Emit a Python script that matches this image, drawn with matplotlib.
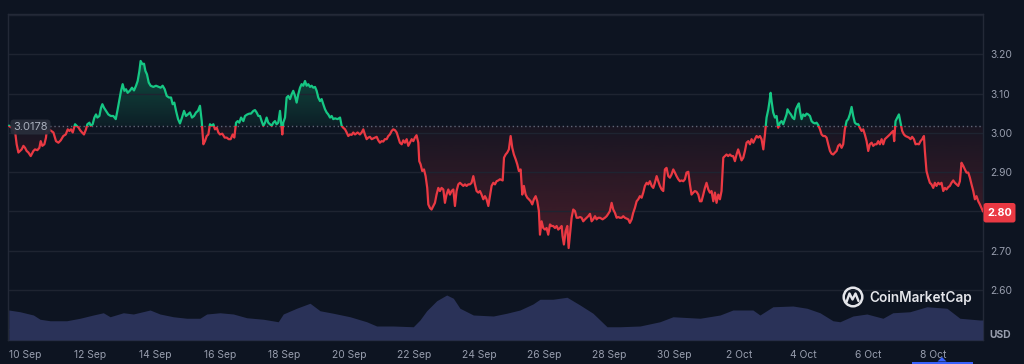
import numpy as np
import matplotlib
matplotlib.use('Agg')
import matplotlib.pyplot as plt
from matplotlib.patches import Rectangle, FancyBboxPatch, PathPatch, Circle, Polygon
from matplotlib.path import Path
from matplotlib.colors import to_rgb

plt.rcParams['font.family'] = ['Inter', 'DejaVu Sans']

# ---------------- data (hours since 10 Sep 00:00, price in USD) ----------------
hours_a = [-11.8,-9.9,-7.4,-6.2,-4.9,-3.7,-2.5,-1.2,0.0,1.2,
           2.5,4.2,6.2,7.4,9.1,10.6,11.6,12.8,14.3,15.5,
           16.0,18.5,21.0,22.9,24.7,26.4,28.3,30.1,31.6,32.8,
           34.0,35.3,37.0,38.2,39.7,40.7,42.2,43.6,45.1,46.1,
           47.6,48.6,50.0,51.3,52.5,53.5,55.0,56.2,57.2,58.4,
           59.9,61.6,63.4,65.3,67.1,68.3,69.8,71.0,72.2,73.5,
           74.7,75.9,77.7,79.1,80.6,82.1,83.3,84.6,85.5,86.8,
           88.0,89.0,90.2,91.5,92.9,94.9,96.9,98.9,100.3,101.8,
           103.3,104.8,106.5,108.0,109.2,110.4,111.7,113.2,114.6,116.1,
           117.6,119.1,120.5,122.0,123.5,125.0,126.5,127.9,129.4,130.7,
           131.9,133.1,134.4,135.6,136.8,138.1,139.3,140.5,141.8,143.0,
           144.2,145.9,147.7,149.2,150.6,152.1,153.6,154.8,156.1,157.3,
           158.5,159.8,161.5,162.7,164.4,165.9]
price_a = [3.018,3.013,3.005,2.971,2.950,2.954,2.958,2.967,2.962,2.954,
           2.950,2.941,2.954,2.958,2.956,2.962,2.979,2.967,2.971,2.988,
           3.005,3.007,3.001,2.979,2.975,2.981,2.992,2.996,3.009,3.005,
           3.009,3.001,3.022,3.018,3.013,3.007,3.001,2.996,3.009,3.022,
           3.026,3.018,3.022,3.039,3.047,3.039,3.043,3.064,3.073,3.064,
           3.056,3.047,3.043,3.043,3.035,3.056,3.085,3.107,3.124,3.107,
           3.111,3.102,3.108,3.115,3.108,3.120,3.132,3.158,3.183,3.175,
           3.176,3.158,3.149,3.128,3.120,3.117,3.120,3.117,3.115,3.120,
           3.111,3.094,3.090,3.090,3.073,3.077,3.056,3.035,3.024,3.039,
           3.056,3.043,3.047,3.052,3.039,3.043,3.052,3.056,3.069,3.030,
           2.971,2.979,2.992,2.996,3.022,3.018,3.022,3.009,3.013,3.001,
           2.996,2.998,2.988,2.988,2.984,2.984,2.996,2.988,3.026,3.030,
           3.026,3.039,3.030,3.043,3.047,3.049]

hours_b = [167.1,168.9,170.1,171.3,172.6,173.8,175.0,176.3,177.5,178.7,
           179.9,181.2,182.4,183.7,184.9,186.1,187.3,188.6,189.3,190.3,
           191.0,192.3,193.5,194.7,196.0,197.2,198.4,199.7,200.9,202.1,
           203.4,204.6,205.8,207.1,208.3,209.5,210.8,212.0,213.2,214.5,
           215.7,216.9,218.2,219.4,220.6,221.9,223.1,224.3,225.6,226.8,
           228.0,229.3,231.2,233.0,234.2,235.4,236.7,237.9,239.1,240.3,
           241.6,242.8,244.1,246.0,247.7,249.0,250.2,251.4,252.7,253.9,
           255.1,256.4,257.6,258.8,260.1,261.3,262.5,263.8,265.0,266.2,
           267.5,268.7,269.9,271.2,272.4,273.6,274.9,276.1,277.3,278.6,
           279.8,281.0,282.3,283.5,284.7,286.0,287.2,288.4,289.6,290.9,
           291.6,292.6,293.8,295.1,296.3,297.5,298.3,299.5,300.7,302.0,
           303.2,304.4,305.7,306.9,308.1,309.4,310.6,311.8,313.1,314.3,
           315.5,316.8,318.0,319.2,320.5,321.7,322.9,324.2,325.4,326.6,
           327.9,329.1,330.3,331.6,332.8,334.0,335.3,336.5,337.7,339.0,
           340.2,341.4,342.7,343.9,345.1,346.4,347.6]
price_b = [3.049,3.056,3.058,3.052,3.043,3.043,3.030,3.018,3.026,3.039,
           3.026,3.022,3.018,3.026,3.030,3.022,3.026,3.056,3.030,2.996,
           3.026,3.039,3.090,3.094,3.086,3.098,3.107,3.094,3.077,3.098,
           3.115,3.124,3.120,3.132,3.120,3.124,3.117,3.120,3.115,3.117,
           3.107,3.090,3.081,3.086,3.073,3.060,3.052,3.047,3.039,3.043,
           3.035,3.037,3.035,3.039,3.018,3.013,3.009,3.001,2.992,2.996,
           2.995,3.001,2.996,3.001,2.996,3.001,3.009,2.996,2.984,2.988,
           2.990,2.984,2.986,2.988,2.990,2.981,2.975,2.979,2.978,2.984,
           2.984,2.992,2.996,3.005,3.009,3.007,3.001,2.988,2.975,2.971,
           2.981,2.975,2.984,2.967,2.975,2.984,2.979,2.988,2.994,2.975,
           2.928,2.920,2.903,2.907,2.890,2.860,2.818,2.809,2.805,2.814,
           2.822,2.843,2.860,2.852,2.860,2.856,2.822,2.843,2.856,2.843,
           2.852,2.856,2.814,2.852,2.869,2.873,2.869,2.865,2.869,2.865,
           2.869,2.869,2.873,2.890,2.869,2.852,2.848,2.852,2.843,2.831,
           2.839,2.831,2.814,2.839,2.865,2.873,2.869]

hours_c = [348.8,350.1,351.3,353.3,354.3,355.5,356.7,357.9,359.2,360.4,
           361.6,362.9,364.1,365.3,366.6,367.8,369.0,370.3,371.5,372.7,
           374.0,375.2,376.4,377.7,378.9,380.1,380.9,382.1,383.3,384.6,
           385.8,387.0,388.3,389.5,390.7,392.0,393.2,394.4,395.7,396.9,
           397.6,398.6,399.9,401.1,402.1,403.1,404.3,405.5,406.8,408.0,
           409.2,410.5,411.7,412.9,414.2,415.4,416.6,417.9,419.1,420.3,
           421.6,422.8,424.0,425.3,427.2,428.9,430.2,431.4,432.6,433.9,
           435.1,436.3,437.6,438.8,440.0,441.3,442.5,443.7,445.0,446.2,
           447.4,448.7,449.9,451.1,452.4,453.6,454.8,456.1,457.3,458.5,
           459.8,461.0,462.2,463.5,464.7,465.9,467.2,468.4,469.6,470.9,
           472.1,473.3,474.5,475.8,477.0,478.2,479.5,480.7,481.9,483.2,
           484.4,485.6,486.9,488.1,489.3,490.6,491.8,493.0,494.3,495.5,
           496.7,498.0,499.2,500.4,501.7,502.9,504.1,505.4,506.6,507.8,
           509.1,510.3,511.5,512.8,514.0,515.2,516.5,517.7,518.9,520.1,
           521.4,522.6,523.8,525.1,526.3,527.5]
price_c = [2.877,2.879,2.882,2.879,2.937,2.945,2.950,2.958,2.992,2.962,
           2.945,2.933,2.920,2.903,2.907,2.843,2.865,2.843,2.835,2.831,
           2.826,2.818,2.831,2.839,2.826,2.801,2.741,2.775,2.758,2.754,
           2.758,2.741,2.767,2.763,2.763,2.758,2.763,2.754,2.758,2.763,
           2.737,2.716,2.750,2.763,2.707,2.741,2.784,2.805,2.801,2.784,
           2.784,2.786,2.784,2.775,2.780,2.784,2.788,2.794,2.775,2.780,
           2.788,2.780,2.784,2.784,2.780,2.784,2.788,2.794,2.801,2.822,
           2.805,2.797,2.784,2.786,2.784,2.784,2.788,2.784,2.782,2.780,
           2.771,2.780,2.797,2.809,2.826,2.831,2.839,2.835,2.848,2.865,
           2.873,2.869,2.877,2.865,2.860,2.873,2.890,2.877,2.865,2.856,
           2.852,2.907,2.911,2.890,2.886,2.894,2.907,2.899,2.890,2.882,
           2.877,2.879,2.877,2.882,2.899,2.901,2.869,2.843,2.848,2.852,
           2.850,2.843,2.826,2.826,2.843,2.860,2.873,2.856,2.848,2.852,
           2.826,2.848,2.822,2.843,2.831,2.852,2.937,2.941,2.945,2.941,
           2.945,2.941,2.941,2.928,2.945,2.958]

hours_d = [530.0,531.3,532.5,533.7,535.0,536.2,537.4,538.7,539.9,541.1,
           542.4,543.6,544.8,546.1,547.3,548.5,549.8,550.7,551.5,552.2,
           553.4,554.7,555.9,557.1,558.4,559.6,560.8,562.1,563.3,564.0,
           565.3,566.5,567.7,569.0,570.2,571.4,572.4,573.4,574.4,575.6,
           576.9,578.1,579.3,580.6,581.8,583.0,584.3,585.5,586.7,588.0,
           589.2,590.4,591.7,592.9,594.1,595.4,596.6,597.8,599.1,600.3,
           601.5,602.7,604.0,605.2,606.4,607.7,608.9,610.1,611.4,612.6,
           613.8,615.1,616.3,617.5,618.8,620.0,621.2,622.5,623.7,624.9,
           626.2,627.4,628.6,629.9,631.1,632.3,633.6,634.8,636.0,637.3,
           638.5,639.7,641.0,642.2,642.9,643.9,645.2,646.4,647.6,648.8,
           650.1,651.3,652.5,653.8,655.0,656.2,657.5,658.7,659.9,661.2,
           662.4,663.6,664.9,665.6,666.8,668.1,669.3,670.5,671.8,673.0,
           674.2,675.5,676.7,677.9,679.2,680.4,681.6,682.9,684.1,685.3,
           686.6,687.8,689.0,690.3,691.5,692.7,694.0,695.2,696.4,697.7,
           698.9,700.1,701.4,702.6,703.8,705.1,706.3,707.5,708.5]
price_d = [2.930,2.937,2.954,2.975,2.979,2.971,2.984,2.975,2.984,2.992,
           2.988,2.992,2.984,2.958,2.996,3.039,3.060,3.081,3.102,3.081,
           3.052,3.039,3.043,3.013,3.026,3.030,3.022,3.035,3.047,3.060,
           3.052,3.047,3.039,3.035,3.060,3.069,3.075,3.052,3.035,3.047,
           3.043,3.049,3.047,3.043,3.030,3.026,3.024,3.026,3.020,3.009,
           2.996,2.992,2.992,2.988,2.971,2.954,2.947,2.945,2.950,2.954,
           2.967,2.971,2.962,2.971,3.009,3.030,3.035,3.047,3.066,3.043,
           3.026,3.022,3.022,3.013,3.005,3.009,2.996,2.979,2.954,2.971,
           2.975,2.967,2.971,2.971,2.979,2.971,2.984,2.971,2.984,2.988,
           2.992,2.996,3.001,3.005,2.979,3.030,3.039,3.047,3.026,3.005,
           2.996,2.992,2.990,2.988,2.984,2.990,2.984,2.971,2.972,2.971,
           2.979,2.984,2.992,2.954,2.903,2.886,2.873,2.869,2.860,2.873,
           2.865,2.873,2.869,2.873,2.852,2.860,2.856,2.862,2.865,2.873,
           2.879,2.873,2.869,2.865,2.877,2.924,2.916,2.907,2.899,2.899,
           2.886,2.869,2.852,2.831,2.839,2.826,2.818,2.809,2.801]

# volume (hours since 10 Sep 00:00, millions USD)
vol_hours = [-12,-3.7,6.2,11.1,18.5,30.8,40.7,50.5,57.9,62.9,
             72.7,80.1,92.5,99.8,109.7,119.6,129.4,134.4,144.2,154.1,
             164.0,176.3,187.3,191.0,200.9,210.8,218.2,228.0,240.4,252.7,
             260.1,272.4,287.2,292.1,297.1,304.5,311.9,316.8,321.7,331.6,
             346.4,356.3,366.1,375.7,380.9,390.5,400.9,410.5,420.1,430.5,
             440.1,454.9,469.6,479.3,499.3,514.1,523.6,538.4,543.6,553.2,
             568.0,578.4,588.0,597.6,602.8,612.4,622.7,634.6,641.9,654.5,
             667.1,681.9,691.5,706.3,708.5]
volume = [120,113,100,83,77,77,87,100,109,93,
          109,104,120,104,93,87,87,104,109,104,
          89,83,73,104,127,147,117,107,93,73,
          56,56,53,80,117,157,180,167,127,100,
          96,107,120,144,163,163,171,140,107,53,
          53,56,73,93,87,100,120,120,100,133,
          136,127,109,77,73,96,104,87,109,113,
          133,127,87,80,80]

baseline_price = 3.0178
current_price = 2.80
tick_hours = [0, 48, 96, 144, 192, 240, 288, 336, 384, 432, 480, 528, 576, 624, 672]
tick_labels = ['10 Sep', '12 Sep', '14 Sep', '16 Sep', '18 Sep', '20 Sep', '22 Sep',
               '24 Sep', '26 Sep', '28 Sep', '30 Sep', '2 Oct', '4 Oct', '6 Oct', '8 Oct']
price_levels = [2.5, 2.6, 2.7, 2.8, 2.9, 3.0, 3.1, 3.2, 3.3]
price_labels = ['', '2.60', '2.70', '', '2.90', '3.00', '3.10', '3.20', '']

# ---------------- styling ----------------
BG = '#0d1421'
GRID = '#1e2431'
GREEN = '#16c784'
RED = '#ea3943'
VOL = '#2a3258'
TXT = '#989eae'

hours = np.array(hours_a + hours_b + hours_c + hours_d)
price = np.array(price_a + price_b + price_c + price_d)

fig = plt.figure(figsize=(10.24, 3.64), dpi=100, facecolor=BG)
rect = [8/1024, 24/364, 975/1024, 326/364]
ax = fig.add_axes(rect)
ax.set_facecolor(BG)
XL = (-12.6, 708.6)
YL = (2.473, 3.3025)

# gradient fills
def grad_fill(mask_above, color, y0, y1, a_lo, a_hi):
    if mask_above:
        coll = ax.fill_between(hours, price, baseline_price, where=price >= baseline_price,
                               interpolate=True, facecolor='none', edgecolor='none')
    else:
        coll = ax.fill_between(hours, price, baseline_price, where=price <= baseline_price,
                               interpolate=True, facecolor='none', edgecolor='none')
    paths = coll.get_paths()
    cp = Path.make_compound_path(*paths)
    patch = PathPatch(cp, transform=ax.transData, facecolor='none', edgecolor='none')
    ax.add_patch(patch)
    g = np.zeros((256, 1, 4))
    g[..., :3] = to_rgb(color)
    g[:, 0, 3] = np.linspace(a_lo, a_hi, 256)
    im = ax.imshow(g, extent=[XL[0], XL[1], y0, y1], origin='lower', aspect='auto',
                   zorder=1, interpolation='bilinear')
    im.set_clip_path(patch)

grad_fill(True, GREEN, baseline_price, 3.19, 0.06, 0.36)
grad_fill(False, RED, 2.70, baseline_price, 0.27, 0.05)

# price line: green above baseline, red below
lg, = ax.plot(hours, price, color=GREEN, lw=1.6, zorder=3, solid_joinstyle='round')
lr, = ax.plot(hours, price, color=RED, lw=1.6, zorder=3, solid_joinstyle='round')
rg = Rectangle((XL[0], baseline_price), XL[1]-XL[0], 1.0, transform=ax.transData)
rr = Rectangle((XL[0], baseline_price - 1.0), XL[1]-XL[0], 1.0, transform=ax.transData)
lg.set_clip_path(rg)
lr.set_clip_path(rr)

ax.axhline(baseline_price, color='#5f6677', lw=1.0, ls=(0, (1, 2)), zorder=2)

ax.set_xlim(*XL)
ax.set_ylim(*YL)
ax.set_yticks(price_levels)
ax.set_yticklabels(price_labels)
ax.yaxis.tick_right()
ax.set_xticks(tick_hours)
ax.set_xticklabels(tick_labels)
ax.tick_params(axis='both', length=0, colors=TXT, labelsize=7.4)
ax.tick_params(axis='y', pad=5)
ax.tick_params(axis='x', pad=7)
ax.grid(axis='y', color=GRID, lw=1.0, zorder=0)
for s in ax.spines.values():
    s.set_color('#232937')
    s.set_linewidth(1.0)

# volume
axv = fig.add_axes(rect, zorder=ax.get_zorder() + 1)
axv.set_facecolor('none')
axv.fill_between(vol_hours, volume, 0, color=VOL, lw=0)
axv.set_xlim(*XL)
axv.set_ylim(0, 1304)
axv.axis('off')

# overlay in pixel coordinates for labels / logo
ov = fig.add_axes([0, 0, 1, 1], zorder=10)
ov.set_xlim(0, 1024)
ov.set_ylim(364, 0)
ov.axis('off')

ov.add_patch(FancyBboxPatch((10.5, 119.5), 40, 15, boxstyle='round,pad=0,rounding_size=3.5',
                            facecolor='#282d3a', edgecolor='none', alpha=0.95))
ov.text(30.5, 127.3, f'{baseline_price:.4f}', color='#aab0bd', fontsize=8.0,
        ha='center', va='center')

ov.add_patch(FancyBboxPatch((983.5, 203), 32, 19.5, boxstyle='round,pad=0,rounding_size=2.5',
                            facecolor=RED, edgecolor='none'))
ov.text(999.5, 212.8, f'{current_price:.2f}', color='white', fontsize=7.8,
        fontweight='bold', ha='center', va='center')

ov.text(1000, 335, 'USD', color=TXT, fontsize=7.4, fontweight='bold',
        ha='center', va='center')

# CoinMarketCap logo
LOGO = '#e4e5ea'
ov.add_patch(Circle((853, 297), 9.3, facecolor='none', edgecolor=LOGO, lw=1.8))
ov.plot([846.5, 849.5, 852.5, 855.5, 858.5], [302, 293.5, 299.5, 293.5, 301],
        color=LOGO, lw=1.7, solid_capstyle='round', solid_joinstyle='round')
ov.text(869.5, 297.5, 'CoinMarketCap', color=LOGO, fontsize=9.8, fontweight='semibold',
        ha='left', va='center')

# bottom range marker
ov.add_patch(Rectangle((912, 361.5), 61, 2.5, facecolor='#3861fb', edgecolor='none'))
ov.add_patch(Polygon([(937.5, 361.5), (942, 357), (946.5, 361.5)], closed=True,
                     facecolor='#3861fb', edgecolor='none'))

fig.savefig('out.png', dpi=100, facecolor=BG)
